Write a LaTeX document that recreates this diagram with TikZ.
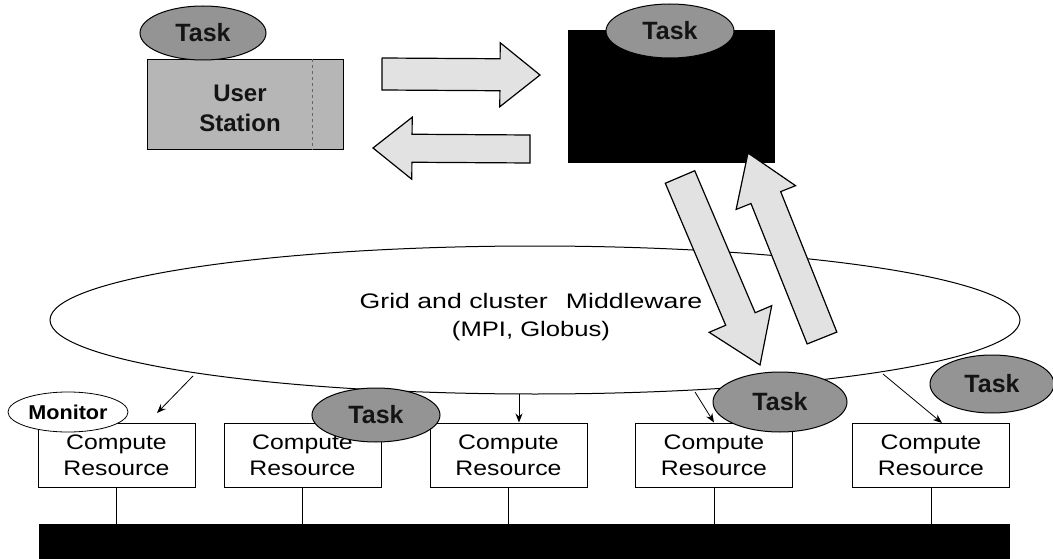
\documentclass[tikz,border=0pt]{standalone}
\usepackage{fontspec}
\setmainfont{Liberation Sans}
\usepackage{graphicx}
\usetikzlibrary{shapes.geometric,calc,arrows.meta}

\definecolor{usgray}{HTML}{B6B6B6}
\definecolor{taskgray}{HTML}{949494}
\definecolor{arrowgray}{HTML}{E2E2E2}
\definecolor{textdark}{HTML}{141414}

% horizontally stretched text
\newcommand\wide[2]{\scalebox{#1}[1]{#2}}

% broad block arrow: tail centre, tip, shaft half-width, head half-width, head length
\newcommand\fatarrow[5]{%
  \coordinate (fa-c) at ($(#2)!#5!(#1)$);
  \filldraw[bigarrow]
    ($(#1)!#3!90:(#2)$) -- ($(fa-c)!#3!90:(#2)$) -- ($(fa-c)!#4!90:(#2)$) --
    (#2) --
    ($(fa-c)!#4!-90:(#2)$) -- ($(fa-c)!#3!-90:(#2)$) -- ($(#1)!#3!-90:(#2)$) -- cycle;
}

\tikzset{
  rbox/.style={draw=black, line width=1pt, fill=white, minimum width=157pt,
    minimum height=64pt, inner sep=0pt, align=center,
    font=\fontsize{21}{26}\selectfont},
  taskell/.style={ellipse, draw=black, line width=1pt, fill=taskgray, inner sep=0pt,
    text=textdark, font=\fontsize{25}{30}\selectfont\bfseries},
  bigarrow/.style={draw=black, line width=1.2pt, fill=arrowgray, line join=miter},
  link/.style={line width=0.8pt},
  feed/.style={-{Stealth[length=9pt,width=7pt]}, line width=0.8pt},
}

\begin{document}
\begin{tikzpicture}[x=1pt, y=-1pt]
\useasboundingbox (0,0) rectangle (1053,559);

% middleware layer
\node[ellipse, draw=black, line width=1pt, minimum width=970pt, minimum height=148pt,
  inner sep=0pt] (mw) at (535,320) {};
\node[align=center, font=\fontsize{21}{28}\selectfont] (mwtext) at (531,317)
  {\wide{1.27}{Grid and cluster\hspace{0.4em} Middleware}\\\wide{1.22}{(MPI, Globus)}};

% compute resources and the interconnect
\node[rbox] (c1) at (116.5,455) {\wide{1.18}{Compute}\\\wide{1.18}{Resource}};
\node[rbox] (c2) at (302.5,455) {\wide{1.18}{Compute}\\\wide{1.18}{Resource}};
\node[rbox] (c3) at (508.5,455) {\wide{1.18}{Compute}\\\wide{1.18}{Resource}};
\node[rbox] (c4) at (714,455)   {\wide{1.18}{Compute}\\\wide{1.18}{Resource}};
\node[rbox] (c5) at (931,455)   {\wide{1.18}{Compute}\\\wide{1.18}{Resource}};

\node[fill=black, minimum width=971pt, minimum height=35pt, inner sep=0pt] (bus) at (524.5,541.5) {};

\foreach \c in {c1,c2,c3,c4,c5}
  \draw[link] (\c.south) -- (\c.south |- bus.north);

% middleware dispatch to resources
\coordinate (m1) at (193,376);
\coordinate (t1) at (157,413);
\coordinate (m3) at (519,394);
\coordinate (m4) at (695,392);
\coordinate (m5) at (883,374);
\coordinate (t5) at (942,423);
\draw[feed] (m1) -- (t1);
\draw[feed] (m3) -- (m3 |- c3.north);
\draw[feed] (m4) -- (c4.north);
\draw[feed] (m5) -- (t5);

% monitor and tasks on the resources
\node[ellipse, draw=black, line width=0.8pt, fill=white, minimum width=120pt,
  minimum height=40pt, inner sep=0pt, font=\fontsize{20}{22}\selectfont\bfseries]
  (mon) at (68,412) {\wide{1.08}{Monitor}};
\node[taskell, minimum width=128pt, minimum height=54pt] (t2) at (376,415) {Task};
\node[taskell, minimum width=134pt, minimum height=60pt] (t4) at (780,402) {Task};
\node[taskell, minimum width=124pt, minimum height=58pt] (t5n) at (992,384) {Task};

% user station
\node[draw=black, line width=1pt, fill=usgray, minimum width=196pt, minimum height=90pt,
  inner sep=0pt, align=center, text=textdark,
  font=\fontsize{24}{30}\selectfont\bfseries] (us) at (245,105) {};
\node[align=center, text=textdark, font=\fontsize{24}{30}\selectfont\bfseries]
  (ustext) at (240,108) {User\\Station};
\draw[dashed, line width=0.8pt, black!60] ($(us.north west)!0.84!(us.north east)$)
  -- ($(us.south west)!0.84!(us.south east)$);
\node[taskell, minimum width=126pt, minimum height=54pt] (tu) at (203,33) {Task};

% scheduler
\node[fill=black, minimum width=207pt, minimum height=133pt, inner sep=0pt] (sv) at (671.5,96.5) {};
\node[taskell, minimum width=128pt, minimum height=54pt] (ts) at (670,31) {Task};

% transfers between station and scheduler
\coordinate (a1s) at (382,74);  \coordinate (a1e) at (540,75);
\coordinate (a2s) at (530,149); \coordinate (a2e) at (373,148);
\fatarrow{a1s}{a1e}{16pt}{32pt}{40pt}
\fatarrow{a2s}{a2e}{14pt}{31pt}{39pt}

% transfers between scheduler and middleware
\coordinate (a3s) at (680,177); \coordinate (a3e) at (760,365);
\coordinate (a4s) at (822,338); \coordinate (a4e) at (748,153);
\fatarrow{a3s}{a3e}{16pt}{34pt}{50pt}
\fatarrow{a4s}{a4e}{16pt}{32pt}{48pt}
\end{tikzpicture}
\end{document}
